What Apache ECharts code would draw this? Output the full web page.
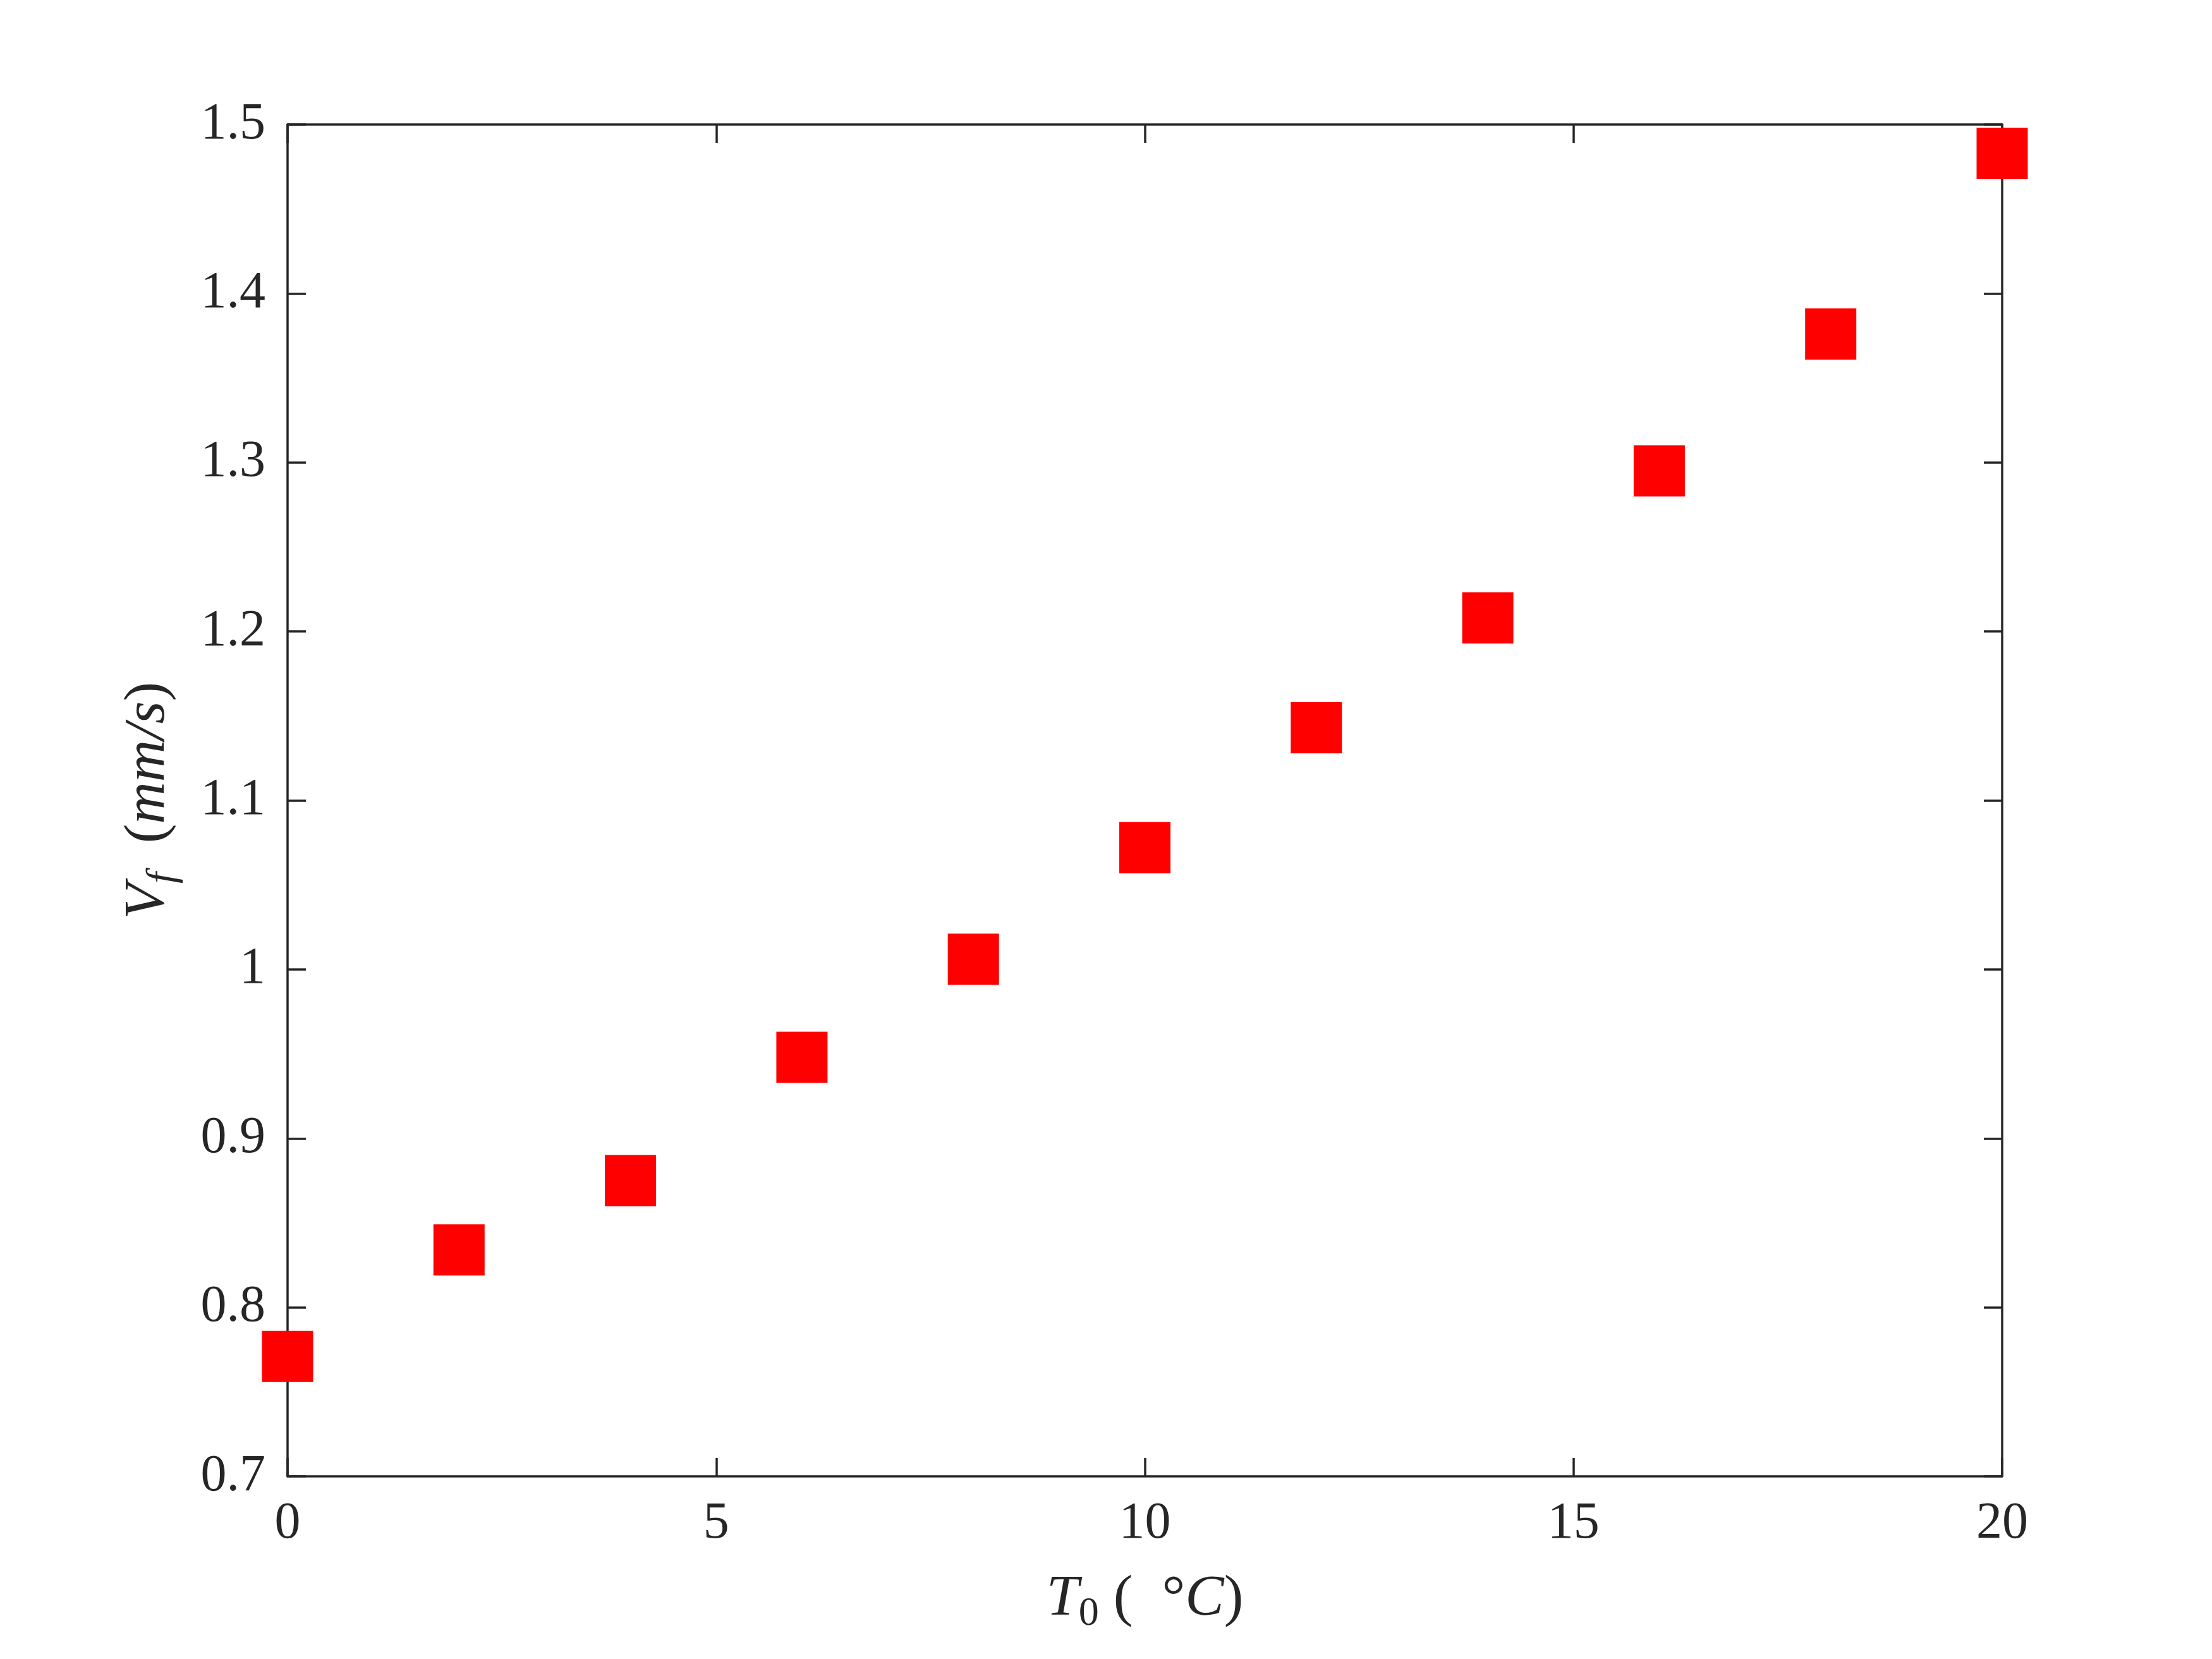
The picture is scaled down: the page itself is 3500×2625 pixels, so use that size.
<!DOCTYPE html>
<html>
<head>
<meta charset="utf-8">
<title>Vf vs T0</title>
<script src="https://cdn.jsdelivr.net/npm/echarts@6/dist/echarts.min.js"></script>
<style>
  html, body { margin: 0; padding: 0; background: #fff; }
  #chart { width: 3500px; height: 2625px; }
</style>
</head>
<body>
<div id="chart"></div>
<script>
// data
const temps = [0, 2, 4, 6, 8, 10, 12, 14, 16, 18, 20];
const speeds = [0.771, 0.834, 0.875, 0.948, 1.006, 1.072, 1.143, 1.208, 1.295, 1.376, 1.483];
const xTicks = [0, 5, 10, 15, 20];
const yTicks = [0.7, 0.8, 0.9, 1.0, 1.1, 1.2, 1.3, 1.4, 1.5];

const ink = '#262626';
const serif = '"Liberation Serif", "DejaVu Serif", serif';

const chart = echarts.init(document.getElementById('chart'));

// frame line + inward ticks, shared by all four sides
const lineStyle = { color: ink, width: 3.5 };
const tickStyle = { show: true, inside: true, length: 29, lineStyle: { color: ink, width: 3.5 } };
const labelFont = { color: ink, fontFamily: serif, fontSize: 82 };

const nameRich = {
  i: { fontFamily: serif, fontStyle: 'italic', fontSize: 92, color: ink },
  n: { fontFamily: serif, fontSize: 92, color: ink },
  s: { fontFamily: serif, fontSize: 64, color: ink, padding: [46, 0, 0, 0] },
  si: { fontFamily: serif, fontStyle: 'italic', fontSize: 64, color: ink, padding: [46, 0, 0, 0] }
};

const xBase = {
  type: 'value',
  min: xTicks[0],
  max: xTicks[xTicks.length - 1],
  interval: 5,
  axisLine: { show: true, onZero: false, lineStyle: lineStyle },
  axisTick: tickStyle,
  splitLine: { show: false }
};
const yBase = {
  type: 'value',
  min: yTicks[0],
  max: yTicks[yTicks.length - 1],
  interval: 0.1,
  axisLine: { show: true, onZero: false, lineStyle: lineStyle },
  axisTick: tickStyle,
  splitLine: { show: false }
};

const option = {
  animation: false,
  backgroundColor: '#ffffff',
  grid: { left: 455, right: 332, top: 197, bottom: 289, containLabel: false },
  xAxis: [
    Object.assign({}, xBase, {
      position: 'bottom',
      axisLabel: Object.assign({ margin: 34 }, labelFont),
      name: '{i|T}{s|0}{n| (  °}{i|C}{n|)}',
      nameLocation: 'middle',
      nameGap: 140,
      nameTextStyle: { rich: nameRich }
    }),
    Object.assign({}, xBase, { position: 'top', axisLabel: { show: false } })
  ],
  yAxis: [
    Object.assign({}, yBase, {
      position: 'left',
      axisLabel: Object.assign({
        margin: 35,
        formatter: v => String(Math.round(v * 10) / 10)
      }, labelFont),
      name: '{i|V}{si|f}{n|  (}{i|mm/s}{n|)}',
      nameLocation: 'middle',
      nameGap: 165,
      nameTextStyle: { rich: nameRich }
    }),
    Object.assign({}, yBase, { position: 'right', axisLabel: { show: false } })
  ],
  series: [
    {
      type: 'scatter',
      xAxisIndex: 0,
      yAxisIndex: 0,
      symbol: 'rect',
      symbolSize: 81,
      clip: false,
      itemStyle: { color: '#ff0000', opacity: 1 },
      data: temps.map((t, i) => [t, speeds[i]])
    }
  ]
};

chart.setOption(option);
</script>
</body>
</html>
